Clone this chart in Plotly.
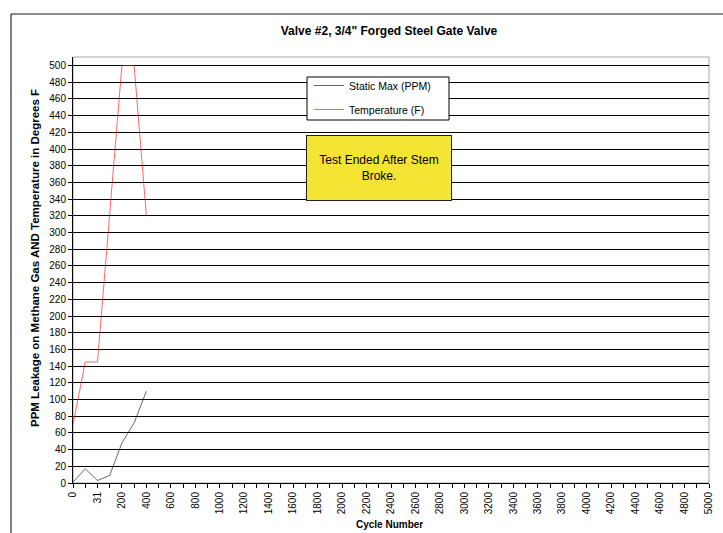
import plotly.graph_objects as go

# Cycle categories on the x axis (index 1 is an unlabelled intermediate reading)
cycles = ["0", "15", "31", "100", "200", "300", "400", "500", "600", "700", "800",
          "900", "1000", "1100", "1200", "1300", "1400", "1500", "1600", "1700",
          "1800", "1900", "2000", "2100", "2200", "2300", "2400", "2500", "2600",
          "2700", "2800", "2900", "3000", "3100", "3200", "3300", "3400", "3500",
          "3600", "3700", "3800", "3900", "4000", "4100", "4200", "4300", "4400",
          "4500", "4600", "4700", "4800", "4900", "5000"]
tick_labels = ["0", "", "31", "", "200", "", "400", "", "600", "", "800", "",
               "1000", "", "1200", "", "1400", "", "1600", "", "1800", "", "2000",
               "", "2200", "", "2400", "", "2600", "", "2800", "", "3000", "",
               "3200", "", "3400", "", "3600", "", "3800", "", "4000", "", "4200",
               "", "4400", "", "4600", "", "4800", "", "5000"]

# Readings taken until the stem broke
test_cycles = ["0", "15", "31", "100", "200", "300", "400"]
static_max_ppm = [1, 17, 3, 9, 48, 72, 110]
temperature_f = [70, 145, 145, 325, 500, 500, 320]

y_ticks = list(range(0, 520, 20))

FONT = "Liberation Sans, Arial, sans-serif"

fig = go.Figure()
fig.add_trace(go.Scatter(
    x=test_cycles, y=static_max_ppm, mode="lines", name="Static Max (PPM)",
    line=dict(color="#000000", width=0.6), legendgroup="a"))
fig.add_trace(go.Scatter(
    x=test_cycles, y=temperature_f, mode="lines", name="Temperature (F)",
    line=dict(color="#ff0000", width=0.6), legendgroup="b"))

W, H = 723, 533
L, R, T, B = 73, 14, 57, 50
PW, PH = W - L - R, H - T - B


def px_x(px):
    return (px - L) / PW


def px_y(py):
    return (H - B - py) / PH


fig.update_layout(
    width=W, height=H,
    margin=dict(l=L, r=R, t=T, b=B, pad=0),
    paper_bgcolor="white", plot_bgcolor="white",
    font=dict(family=FONT, size=10, color="black"),
    title=dict(text="<b>Valve #2, 3/4\" Forged Steel Gate Valve</b>",
               font=dict(family=FONT, size=12, color="black"),
               xref="paper", x=px_x(389), xanchor="center",
               yref="container", y=1 - 31 / H, yanchor="middle"),
    showlegend=True,
    legend=dict(x=px_x(309), xanchor="left", y=px_y(71), yanchor="top",
                bgcolor="rgba(0,0,0,0)", borderwidth=0,
                font=dict(family=FONT, size=10.5, color="black"),
                tracegroupgap=5, itemwidth=30),
    xaxis=dict(type="category", categoryorder="array", categoryarray=cycles,
               range=[0, len(cycles) - 1],
               tickmode="array", tickvals=cycles, ticktext=tick_labels,
               tickangle=-90, ticks="outside", ticklen=4, tickcolor="black",
               showline=True, linecolor="black", linewidth=1,
               showgrid=False, zeroline=False, automargin=False,
               tickfont=dict(family=FONT, size=10, color="black")),
    yaxis=dict(range=[0, 510.3], tickmode="array", tickvals=y_ticks,
               ticks="outside", ticklen=4, tickcolor="black",
               showline=True, linecolor="black", linewidth=1,
               showgrid=True, gridcolor="black", gridwidth=1,
               zeroline=False, automargin=False,
               tickfont=dict(family=FONT, size=10, color="black")),
    shapes=[
        # plot-area frame
        dict(type="rect", xref="paper", yref="paper", x0=0, x1=1, y0=0, y1=1,
             line=dict(color="#a6a6a6", width=1), layer="below"),
        # legend box
        dict(type="rect", xref="paper", yref="paper",
             x0=px_x(307), x1=px_x(449), y0=px_y(120), y1=px_y(77),
             fillcolor="white", line=dict(color="black", width=1),
             layer="above"),
        # outer chart frame
        dict(type="line", xref="paper", yref="paper",
             x0=px_x(11), x1=px_x(740), y0=px_y(14), y1=px_y(14),
             line=dict(color="#8c8c8c", width=2)),
        dict(type="line", xref="paper", yref="paper",
             x0=px_x(11), x1=px_x(11), y0=px_y(14), y1=px_y(560),
             line=dict(color="#000000", width=1)),
    ],
    annotations=[
        dict(text="<b>PPM Leakage on Methane Gas AND Temperature in Degrees F</b>",
             xref="paper", yref="paper", x=px_x(35), y=px_y(258),
             xanchor="center", yanchor="middle",
             textangle=-90, showarrow=False,
             font=dict(family=FONT, size=11.5, color="black")),
        dict(text="<b>Cycle Number</b>", xref="paper", yref="paper",
             x=px_x(389), y=px_y(524), xanchor="center", yanchor="middle",
             showarrow=False,
             font=dict(family=FONT, size=10, color="black")),
        dict(text="Test Ended After Stem<br>Broke.", xref="paper", yref="paper",
             x=px_x(379), y=px_y(168), xanchor="center", yanchor="middle",
             showarrow=False,
             width=144, height=64, align="center", valign="middle",
             bgcolor="#f4e434", bordercolor="#222222", borderwidth=1,
             borderpad=0,
             font=dict(family=FONT, size=12, color="black")),
    ],
)

fig.write_html("out.html")
